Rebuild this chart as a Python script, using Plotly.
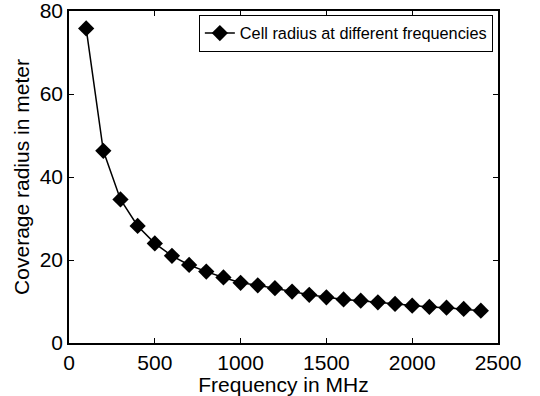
import plotly.graph_objects as go

freq_mhz = [100, 200, 300, 400, 500, 600, 700, 800, 900, 1000, 1100, 1200,
            1300, 1400, 1500, 1600, 1700, 1800, 1900, 2000, 2100, 2200, 2300, 2400]
radius_m = [75.8, 46.3, 34.6, 28.2, 24.0, 21.0, 18.8, 17.2, 15.8, 14.5, 13.9, 13.2,
            12.4, 11.6, 11.0, 10.5, 10.2, 9.8, 9.4, 9.0, 8.7, 8.5, 8.2, 7.8]
x_ticks = [0, 500, 1000, 1500, 2000, 2500]
y_ticks = [0, 20, 40, 60, 80]

fig = go.Figure()
fig.add_trace(go.Scatter(
    x=freq_mhz, y=radius_m, mode="lines+markers",
    name="Cell radius at different frequencies",
    line=dict(color="black", width=1.5),
    marker=dict(symbol="diamond", size=12.5, color="black"),
))

axis_common = dict(
    showgrid=False, zeroline=False, showline=True, linecolor="black", linewidth=1.5,
    mirror="ticks", ticks="inside", ticklen=5, tickcolor="black",
    tickfont=dict(size=21, color="black"), automargin=False,
    ticklabeloverflow="allow",
)
fig.update_layout(
    width=540, height=396,
    margin=dict(l=69, r=42, t=11, b=53),
    paper_bgcolor="white", plot_bgcolor="white",
    font=dict(family="Liberation Sans, Arial, sans-serif", color="black"),
    showlegend=True,
    legend=dict(x=0.988, y=0.988, xanchor="right", yanchor="top",
                bgcolor="white", bordercolor="black", borderwidth=1,
                font=dict(size=16.3), itemwidth=30,
                tracegroupgap=0),
    xaxis=dict(range=[0, 2500], tickvals=x_ticks,
               title=dict(text="Frequency in MHz", font=dict(size=21), standoff=0),
               **axis_common),
    yaxis=dict(range=[0, 80], tickvals=y_ticks,
               title=dict(text="Coverage radius in meter", font=dict(size=21), standoff=4),
               **axis_common),
)
fig.write_html("out.html",
               config={"displayModeBar": False},
               post_script="document.body.style.margin='0px';document.body.style.overflow='hidden';")
